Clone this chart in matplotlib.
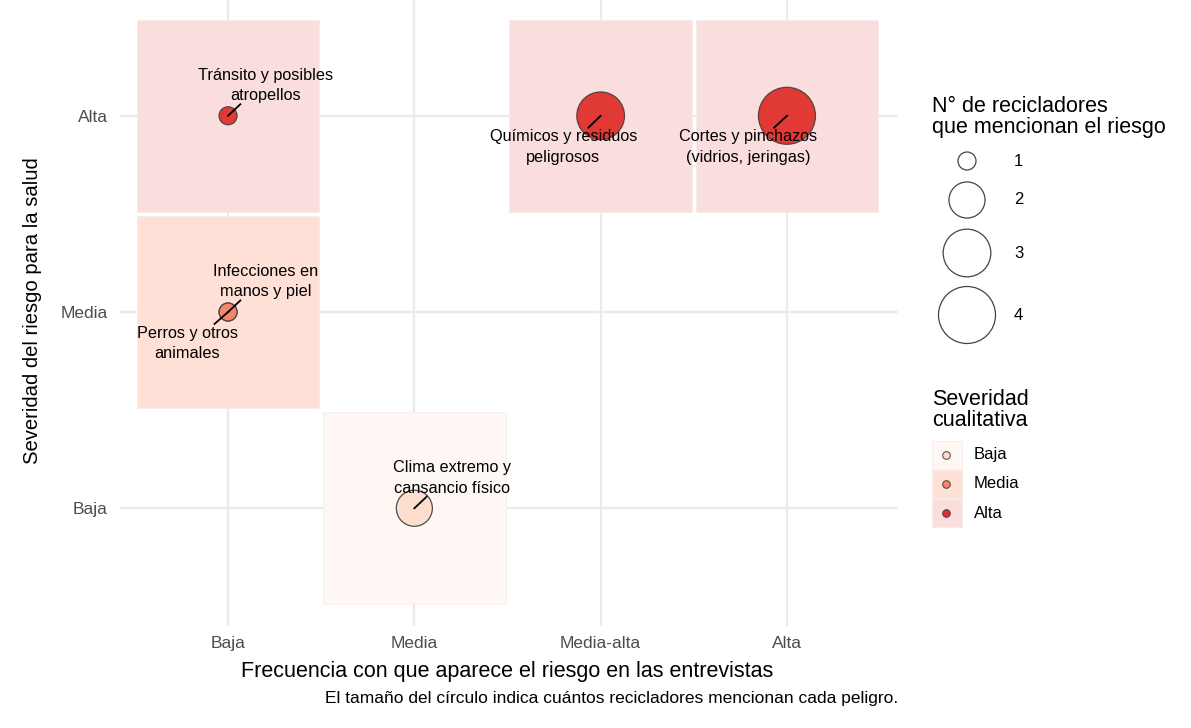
import matplotlib.pyplot as plt
import numpy as np

plt.rcParams['font.family'] = ['Liberation Sans', 'DejaVu Sans']

# data
riesgos = ['Tránsito y posibles\natropellos',
           'Químicos y residuos\npeligrosos',
           'Cortes y pinchazos\n(vidrios, jeringas)',
           'Infecciones en\nmanos y piel',
           'Perros y otros\nanimales',
           'Clima extremo y\ncansancio físico']
frecuencia = [1, 3, 4, 1, 1, 2]          # 1=Baja .. 4=Alta
severidad = [3, 3, 3, 2, 2, 1]           # 1=Baja .. 3=Alta
n_recicladores = [1, 3, 4, 1, 1, 2]
x_labels = ['Baja', 'Media', 'Media-alta', 'Alta']
y_labels = ['Baja', 'Media', 'Alta']
sev_names = ['Baja', 'Media', 'Alta']

# colours
point_cols = {1: '#FDDCCB', 2: '#F4866A', 3: '#E0302B'}
tile_cols = {1: '#FEF7F4', 2: '#FEE0D6', 3: '#FADEDE'}
# label offsets (repel-like) in data units
label_dx = [0.20, -0.20, -0.21, 0.20, -0.22, 0.20]
label_dy = [0.155, -0.16, -0.16, 0.155, -0.16, 0.155]


def size_of(n):
    return 168 + (np.asarray(n) - 1) / 3 * (1684 - 168)


fig = plt.figure(figsize=(11.91, 7.28), dpi=100)
W, H = 1191, 728
ax = fig.add_axes([120 / W, (H - 626) / H, (898 - 120) / W, 626 / H])
ax.set_xlim(0.42, 4.596)
ax.set_ylim(0.4, 3.59)

for sp in ax.spines.values():
    sp.set_visible(False)
ax.grid(True, color='#EBEBEB', linewidth=1.6)
ax.set_axisbelow(True)
ax.tick_params(length=0, labelsize=12.5, labelcolor='#4D4D4D')
ax.tick_params(axis='x', pad=7)
ax.tick_params(axis='y', pad=9)
ax.set_xticks([1, 2, 3, 4], x_labels)
ax.set_yticks([1, 2, 3], y_labels)

# tiles
seen = set()
for fx, sv in zip(frecuencia, severidad):
    if (fx, sv) in seen:
        continue
    seen.add((fx, sv))
    ax.add_patch(plt.Rectangle((fx - 0.49, sv - 0.49), 0.98, 0.98,
                               facecolor=tile_cols[sv], edgecolor='#F5EDEB',
                               linewidth=0.6, zorder=1))

ax.scatter(frecuencia, severidad, s=size_of(n_recicladores),
           c=[point_cols[s] for s in severidad], edgecolors='#444444',
           linewidths=0.9, alpha=0.95, zorder=3)

for i, lab in enumerate(riesgos):
    x0, y0 = frecuencia[i], severidad[i]
    tx, ty = x0 + label_dx[i], y0 + label_dy[i]
    ax.plot([x0, x0 + label_dx[i] * 0.33], [y0, y0 + label_dy[i] * 0.38],
            color='black', linewidth=1.3, zorder=4)
    ax.text(tx, ty, lab, ha='center', va='center', fontsize=11.7,
            linespacing=1.45, zorder=5)

fig.text(507 / W, 1 - 672 / H, 'Frecuencia con que aparece el riesgo en las entrevistas',
         ha='center', va='center', fontsize=15.5)
fig.text(33 / W, 1 - 311 / H, 'Severidad del riesgo para la salud',
         ha='center', va='center', rotation=90, fontsize=14.6)
fig.text(898 / W, 1 - 698 / H,
         'El tamaño del círculo indica cuántos recicladores mencionan cada peligro.',
         ha='right', va='center', fontsize=12.5)

# legends drawn in pixel space
lg = fig.add_axes([0, 0, 1, 1], zorder=10)
lg.set_xlim(0, W)
lg.set_ylim(H, 0)
lg.axis('off')
lg.patch.set_alpha(0)

lg.text(932, 117, 'N° de recicladores\nque mencionan el riesgo', ha='left',
        va='center', fontsize=15.5, linespacing=1.05)
size_keys = [1, 2, 3, 4]
key_y = [161, 200, 253, 315]
lg.scatter([967] * 4, key_y, s=size_of(size_keys), facecolors='white',
           edgecolors='#444444', linewidths=0.9)
for k, yk in zip(size_keys, key_y):
    lg.text(1014, yk, str(k), ha='left', va='center', fontsize=12)

lg.text(932, 410, 'Severidad\ncualitativa', ha='left', va='center',
        fontsize=15.5, linespacing=1.05)
for j, sv in enumerate([1, 2, 3]):
    yc = 455 + j * 29
    lg.add_patch(plt.Rectangle((932, yc - 14), 30, 28, facecolor=tile_cols[sv],
                               edgecolor='#F5EDEB', linewidth=0.6))
    lg.scatter([946], [yc], s=30, c=point_cols[sv], edgecolors='#444444',
               linewidths=0.7)
    lg.text(974, yc, sev_names[j], ha='left', va='center', fontsize=12)

fig.savefig('out.png', dpi=100)
